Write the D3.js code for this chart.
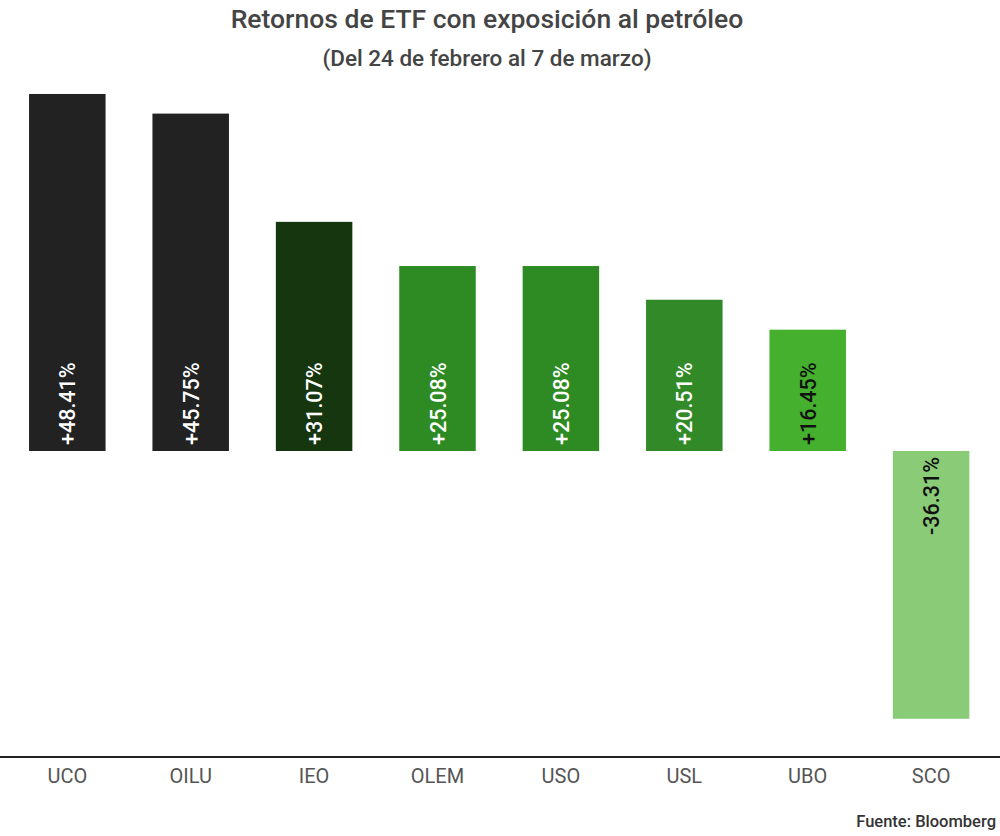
<!DOCTYPE html>
<html><head><meta charset="utf-8">
<script src="https://cdn.jsdelivr.net/npm/d3@7/dist/d3.min.js"></script>
<style>body{margin:0;background:#fff;}svg{display:block;font-family:Roboto,"Noto Sans",sans-serif;}</style>
</head><body>
<svg id="chart" width="1000" height="836"></svg>
<script>
const categories = ["UCO","OILU","IEO","OLEM","USO","USL","UBO","SCO"];
const values = [48.41, 45.75, 31.07, 25.08, 25.08, 20.51, 16.45, -36.31];
const labels = ["+48.41%","+45.75%","+31.07%","+25.08%","+25.08%","+20.51%","+16.45%","-36.31%"];
const colors = ["#222222","#222222","#15360e","#2e8a22","#2e8a22","#318a27","#44b02e","#8acb78"];
const labelColors = ["#ffffff","#ffffff","#ffffff","#ffffff","#ffffff","#ffffff","#111111","#111111"];

const svg = d3.select("#chart");
const x = d3.scaleBand().domain(categories).range([5.6, 992.8]).paddingInner(0.38).paddingOuter(0.19);
const y = d3.scaleLinear().domain([-40, 50]).range([746, 82.25]);

svg.append("text").attr("x", 487).attr("y", 28).attr("text-anchor","middle")
  .attr("font-size", 26.5).attr("font-weight", 500).attr("fill", "#444")
  .text("Retornos de ETF con exposición al petróleo");
svg.append("text").attr("x", 487).attr("y", 66).attr("text-anchor","middle")
  .attr("font-size", 22.5).attr("font-weight", 500).attr("fill", "#444")
  .text("(Del 24 de febrero al 7 de marzo)");

const data = categories.map((c,i)=>({c, v:values[i], l:labels[i], col:colors[i], lc:labelColors[i]}));

svg.selectAll("rect.bar").data(data).join("rect").attr("class","bar")
  .attr("x", d=>x(d.c)).attr("width", x.bandwidth())
  .attr("y", d=>y(Math.max(0,d.v))).attr("height", d=>Math.abs(y(d.v)-y(0)))
  .attr("fill", d=>d.col);

svg.selectAll("text.val").data(data).join("text").attr("class","val")
  .attr("transform", d=>{
    const cx = x(d.c)+x.bandwidth()/2 + 8;
    const yy = d.v>=0 ? y(0)-6 : y(0)+6;
    return `translate(${cx},${yy}) rotate(-90)`;
  })
  .attr("text-anchor", d=>d.v>=0 ? "start" : "end")
  .attr("font-size", 21.5).attr("font-weight", 500).attr("fill", d=>d.lc)
  .text(d=>d.l);

const axisY = 757;
svg.append("line").attr("x1",0).attr("x2",1000).attr("y1",axisY).attr("y2",axisY)
  .attr("stroke","#222").attr("stroke-width",2);

svg.selectAll("text.cat").data(categories).join("text").attr("class","cat")
  .attr("x", d=>x(d)+x.bandwidth()/2).attr("y", 783).attr("text-anchor","middle")
  .attr("font-size", 20).attr("fill","#555").text(d=>d);

svg.append("text").attr("x", 996).attr("y", 827).attr("text-anchor","end")
  .attr("font-size", 16.5).attr("font-weight", 500).attr("fill","#333")
  .text("Fuente: Bloomberg");
</script>
</body></html>
